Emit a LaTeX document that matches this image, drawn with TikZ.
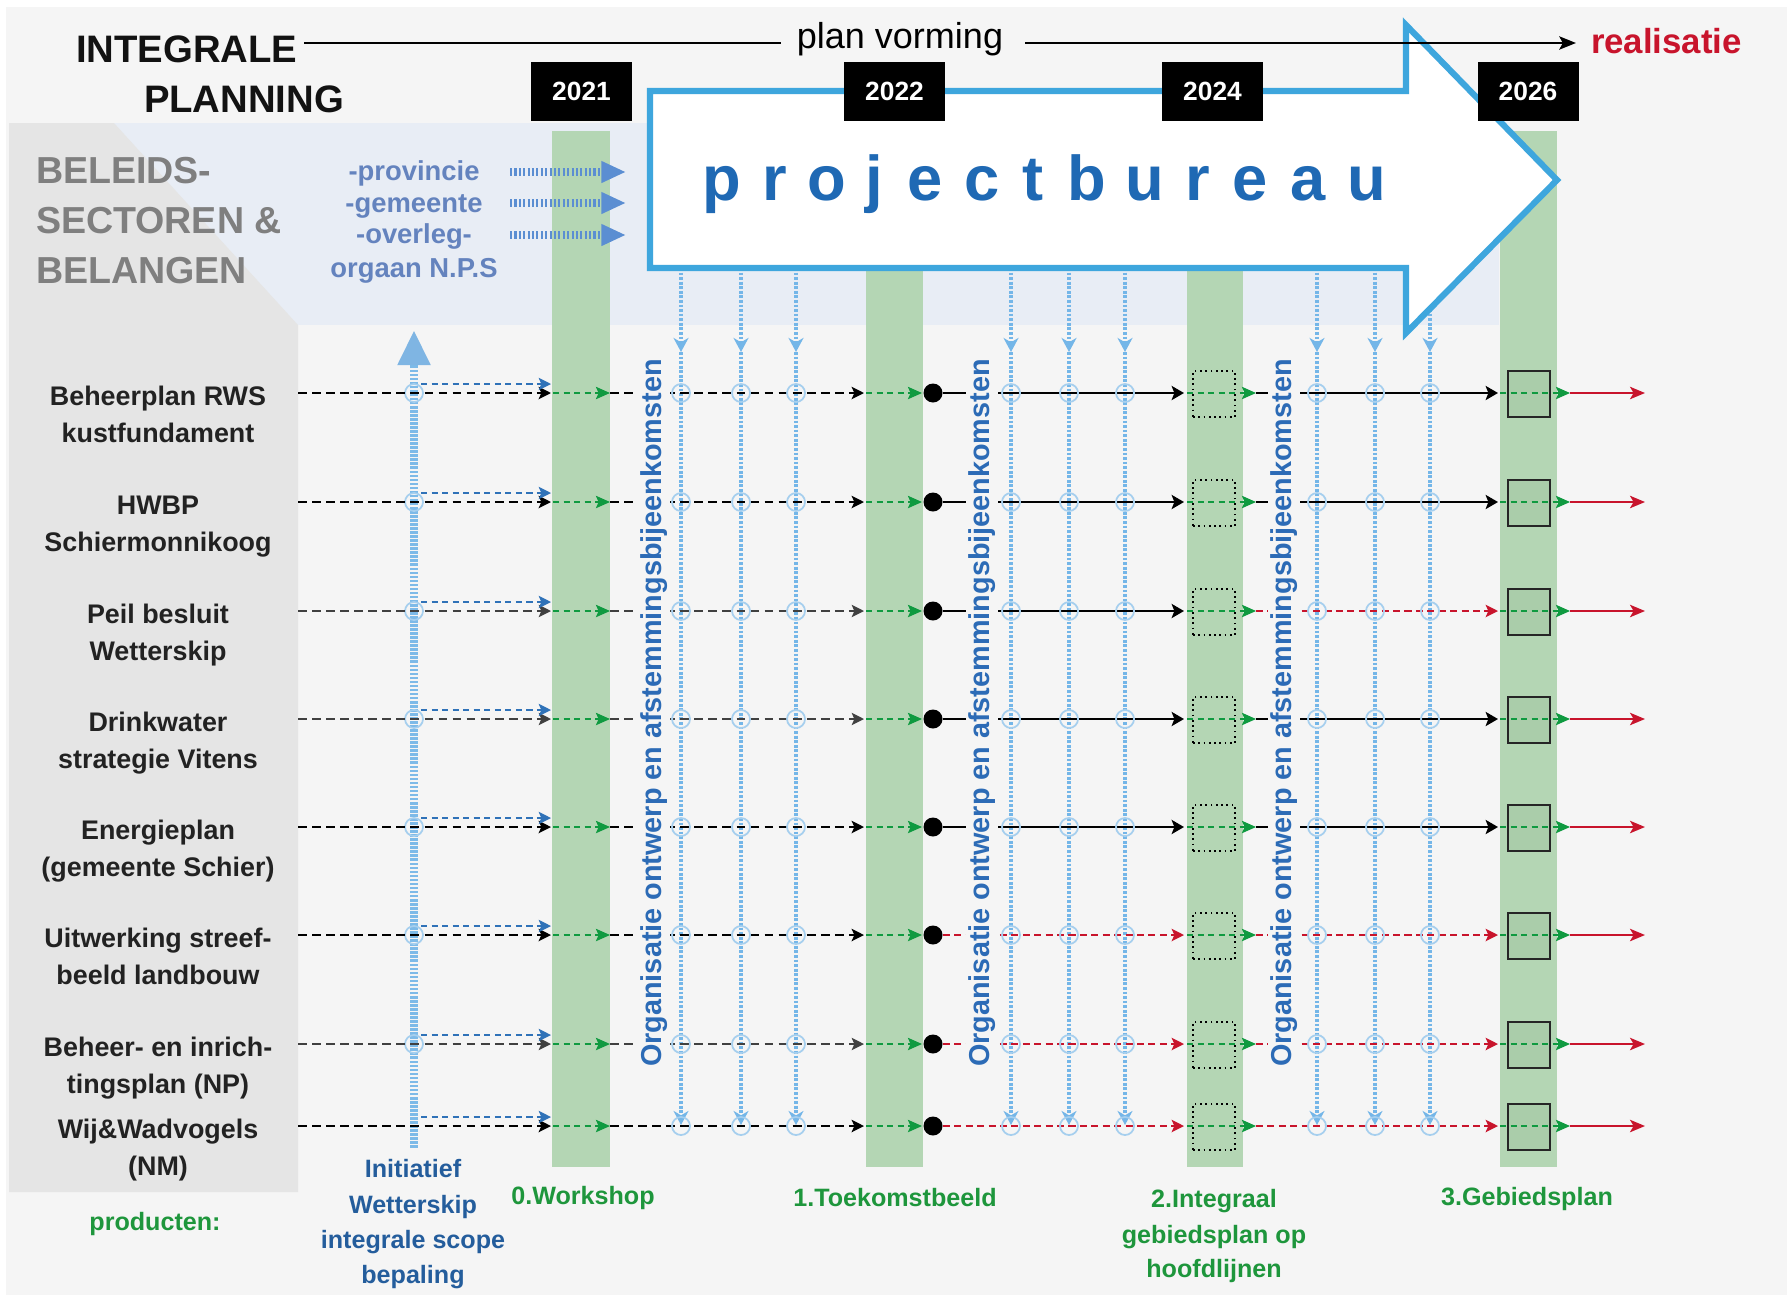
\documentclass[tikz,border=0pt]{standalone}
\usepackage{fontspec}
\setmainfont{Liberation Sans}
\usetikzlibrary{arrows.meta}
\definecolor{bggray}{HTML}{F5F5F5}
\definecolor{panelgray}{HTML}{E5E5E5}
\definecolor{bandblue}{HTML}{E8EDF5}
\definecolor{colgreen}{HTML}{B4D6B4}
\definecolor{boxgreen}{HTML}{AACDAA}
\definecolor{arrgreen}{HTML}{0F9A40}
\definecolor{arrred}{HTML}{C8142C}
\definecolor{dashblue}{HTML}{2F72B8}
\definecolor{vblue}{HTML}{74B6E8}
\definecolor{ringblue}{HTML}{A6CFEE}
\definecolor{initblue}{HTML}{7DBAE8}
\definecolor{inithead}{HTML}{7FB5E3}
\definecolor{listblue}{HTML}{5B8ED2}
\definecolor{listtext}{HTML}{6483BE}
\definecolor{bureaublue}{HTML}{3EA6DD}
\definecolor{pbtext}{HTML}{1F69B4}
\definecolor{orgblue}{HTML}{2C6BB6}
\definecolor{titlegray}{HTML}{7F7F7F}
\definecolor{prodgreen}{HTML}{1E963C}
\definecolor{initdark}{HTML}{245D9C}
\definecolor{labelblack}{HTML}{222222}
\newcommand\myfs[1]{\fontsize{#1pt}{#1pt}\selectfont}
\begin{document}
\begin{tikzpicture}[x=0.02cm,y=-0.02cm,
  txt/.style={inner sep=0pt,outer sep=0pt},
  rowlbl/.style={txt,anchor=base,font=\bfseries\myfs{15.3},text=labelblack},
  botlbl/.style={txt,anchor=base,font=\bfseries\myfs{14.3}},
  listlbl/.style={txt,anchor=base,font=\bfseries\myfs{15.6},text=listtext},
  bigtitle/.style={txt,anchor=base west,font=\bfseries\myfs{21.8},text=black!93},
  greytitle/.style={txt,anchor=base west,font=\bfseries\myfs{21.4},text=titlegray},
  yearbox/.style={fill=black,minimum width=2.02cm,minimum height=1.18cm,inner sep=0pt,text=white,font=\bfseries\myfs{15}},
  orgtext/.style={fill=bggray,inner sep=1.5pt,rotate=90,text=orgblue,font=\bfseries\myfs{16.4}},
  pbl/.style={txt,anchor=base,text=pbtext,font=\bfseries\myfs{36}},
  blkd/.style={draw=black,line width=1.5pt,dash pattern=on 5pt off 3pt,-{Stealth[length=7pt,width=7pt,inset=1.5pt]}},
  blkdl/.style={draw=black!75,line width=0.9pt,dash pattern=on 5pt off 3pt,-{Stealth[length=7pt,width=7pt,inset=1.5pt]}},
  blued/.style={draw=dashblue,line width=0.9pt,dash pattern=on 3.5pt off 2.5pt,-{Stealth[length=7pt,width=7pt,inset=1.5pt]}},
  grnd/.style={draw=arrgreen,line width=1.1pt,dash pattern=on 3.5pt off 2.5pt,-{Stealth[length=8pt,width=7pt,inset=1.5pt]}},
  segK/.style={draw=black,line width=1.5pt,-{Stealth[length=7pt,width=8pt,inset=1.5pt]}},
  segR/.style={draw=arrred,line width=1.3pt,dash pattern=on 4pt off 2.5pt,-{Stealth[length=7pt,width=7pt,inset=1.5pt]}},
  redend/.style={draw=arrred,line width=1.4pt,-{Stealth[length=8.5pt,width=7pt,inset=2pt]}},
  vdot/.style={draw=vblue,line width=2.3pt,dash pattern=on 1.6pt off 1pt,-{Stealth[length=8pt,width=8.5pt,inset=2.5pt]}},
  ringc/.style={circle,draw=ringblue,line width=1pt,minimum size=0.36cm,inner sep=0pt},
  dotn/.style={circle,fill=black,minimum size=0.38cm,inner sep=0pt},
  dbox/.style={draw=black,dotted,line width=1pt,minimum width=0.84cm,minimum height=0.92cm,inner sep=0pt},
  sbox/.style={draw=black!85,fill=boxgreen,line width=1.3pt,minimum width=0.84cm,minimum height=0.92cm,inner sep=0pt},
  listarr/.style={draw=listblue,line width=4pt,dash pattern=on 1.2pt off 1.3pt,-{Triangle[length=14pt,width=11.5pt]}},
  initarr/.style={draw=initblue,line width=5pt,dash pattern=on 1.5pt off 0.8pt,-{Triangle[length=20pt,width=17.5pt,color=inithead]}},
  bureau/.style={draw=bureaublue,line width=3.5pt,fill=white,line join=miter}
]
\useasboundingbox (0,0) rectangle (1787,1295);
% backgrounds
\fill[white] (0,0) rectangle (1787,1295);
\fill[bggray] (6,7) rectangle (1787,1295);
\fill[bandblue] (9,123) rectangle (1499,325);
\fill[panelgray] (9,123) -- (114,123) -- (298,325) -- (298,1192) -- (9,1192) -- cycle;
% green columns
\fill[colgreen] (552,131) rectangle (610,1167);
\fill[colgreen] (866,131) rectangle (923,1167);
\fill[colgreen] (1187,131) rectangle (1243,1167);
\fill[colgreen] (1500,131) rectangle (1557,1167);
% vertical dotted lines from projectbureau
\foreach \vx [count=\k] in {681,741,796,1011,1069,1125,1317,1375,1430}{
  \coordinate (vt\k) at (\vx,268);
  \coordinate (vm\k) at (\vx,352);
  \coordinate (vb\k) at (\vx,1125);
  \draw[vdot] (vt\k) -- (vm\k);
  \draw[vdot] (vm\k) -- (vb\k);
}
% projectbureau arrow
\draw[bureau] (650,91) -- (1406,91) -- (1406,25) -- (1557,180) -- (1406,333) -- (1406,268) -- (650,268) -- cycle;
\foreach \xx/\ch [count=\k] in {722/p,775/r,827/o,874/j,925/e,982/c,1033/t,1087/b,1145/u,1198/r,1250/e,1308/a,1367/u}
  \node[pbl] (pb\k) at (\xx,200) {\ch};
% timeline
\node[bigtitle] (intg) at (76,62) {INTEGRALE};
\node[bigtitle] (plann) at (144,112) {PLANNING};
\node[txt,anchor=base,font=\myfs{20.5}] (pv) at (900,48) {plan vorming};
\node[txt,anchor=base west,font=\bfseries\myfs{19.8},text=arrred] (real) at (1591,53) {realisatie};
\coordinate (tl0) at (304,43);
\coordinate (tl1) at (781,43);
\coordinate (tl2) at (1025,43);
\coordinate (tl3) at (1576,43);
\draw[line width=1.5pt] (tl0) -- (tl1);
\draw[line width=1.5pt,-{Stealth[length=9.5pt,width=7.5pt,inset=2pt]}] (tl2) -- (tl3);
% year boxes
\node[yearbox] (y2021) at (581.5,91.5) {2021};
\node[yearbox] (y2022) at (894.5,91.5) {2022};
\node[yearbox] (y2024) at (1212.5,91.5) {2024};
\node[yearbox] (y2026) at (1528,91.5) {2026};
% left titles
\node[greytitle] (bel1) at (36,183) {BELEIDS-};
\node[greytitle] (bel2) at (36,233) {SECTOREN \&};
\node[greytitle] (bel3) at (36,283) {BELANGEN};
% list
\node[listlbl] (ls1) at (414,180) {-provincie};
\node[listlbl] (ls2) at (414,212) {-gemeente};
\node[listlbl] (ls3) at (414,243) {-overleg-};
\node[listlbl] (ls4) at (414,277) {orgaan N.P.S};
\foreach \yy [count=\k] in {172,203,235}{
  \coordinate (la\k) at (510,\yy);
  \coordinate (lz\k) at (626,\yy);
  \draw[listarr] (la\k) -- (lz\k);
}
% initiatief arrow
\coordinate (ib) at (414,1148);
\coordinate (it) at (414,330);
\draw[initarr] (ib) -- (it);
\foreach \yy [count=\k] in {393,502,611,719,827,935,1044}
  \node[ringc] (ri\k) at (414,\yy) {};
% rows
\foreach \i/\y/\la/\lb/\fa/\sb/\sc in {
 1/393/Beheerplan RWS/kustfundament/blkd/segK/segK,
 2/502/HWBP/Schiermonnikoog/blkd/segK/segK,
 3/611/Peil besluit/Wetterskip/blkdl/segK/segR,
 4/719/Drinkwater/strategie Vitens/blkdl/segK/segK,
 5/827/Energieplan/(gemeente Schier)/blkd/segK/segK,
 6/935/Uitwerking streef-/beeld landbouw/blkd/segR/segR,
 7/1044/Beheer- en inrich-/tingsplan (NP)/blkdl/segR/segR,
 8/1126/Wij\&Wadvogels/(NM)/blkd/segR/segR}{
  \node[rowlbl] (lbA\i) at (158,\y+12) {\la};
  \node[rowlbl] (lbB\i) at (158,\y+49) {\lb};
  \coordinate (p\i) at (298,\y);
  \coordinate (c1l\i) at (551,\y);
  \coordinate (c1s\i) at (553,\y);
  \coordinate (c1r\i) at (610,\y);
  \coordinate (c2l\i) at (864,\y);
  \coordinate (c2s\i) at (866,\y);
  \coordinate (c2r\i) at (922,\y);
  \coordinate (c3l\i) at (1184,\y);
  \coordinate (c3s\i) at (1187,\y);
  \coordinate (c3r\i) at (1256,\y);
  \coordinate (c4l\i) at (1498,\y);
  \coordinate (c4s\i) at (1500,\y);
  \coordinate (c4r\i) at (1570,\y);
  \coordinate (e\i) at (1645,\y);
  \coordinate (bs\i) at (421,\y-9);
  \coordinate (be\i) at (551,\y-9);
  \node[dbox] (bx3\i) at (1214,\y+1) {};
  \node[sbox] (bx4\i) at (1529,\y+1) {};
  \draw[\fa] (p\i) -- (c1l\i);
  \draw[blued] (bs\i) -- (be\i);
  \draw[grnd] (c1s\i) -- (c1r\i);
  \draw[\fa] (c1r\i) -- (c2l\i);
  \draw[grnd] (c2s\i) -- (c2r\i);
  \node[dotn] (d\i) at (933,\y) {};
  \draw[\sb] (d\i) -- (c3l\i);
  \draw[grnd] (c3s\i) -- (c3r\i);
  \draw[\sc] (c3r\i) -- (c4l\i);
  \draw[grnd] (c4s\i) -- (c4r\i);
  \draw[redend] (c4r\i) -- (e\i);
  \foreach \vx in {681,741,796,1011,1069,1125,1317,1375,1430}
    \node[ringc] (rg\i-\vx) at (\vx,\y) {};
}
% rotated texts
\node[orgtext] (org1) at (654,713) {Organisatie ontwerp en afstemmingsbijeenkomsten};
\node[orgtext] (org2) at (982,713) {Organisatie ontwerp en afstemmingsbijeenkomsten};
\node[orgtext] (org3) at (1284,713) {Organisatie ontwerp en afstemmingsbijeenkomsten};
% bottom labels
\node[botlbl,text=initdark] (ini1) at (413,1177) {Initiatief};
\node[botlbl,text=initdark] (ini2) at (413,1213) {Wetterskip};
\node[botlbl,text=initdark] (ini3) at (413,1248) {integrale scope};
\node[botlbl,text=initdark] (ini4) at (413,1283) {bepaling};
\node[botlbl,text=prodgreen] (prod) at (155,1230) {producten:};
\node[botlbl,text=prodgreen] (pr0) at (583,1204) {0.Workshop};
\node[botlbl,text=prodgreen] (pr1) at (895,1206) {1.Toekomstbeeld};
\node[botlbl,text=prodgreen] (pr2a) at (1214,1207) {2.Integraal};
\node[botlbl,text=prodgreen] (pr2b) at (1214,1243) {gebiedsplan op};
\node[botlbl,text=prodgreen] (pr2c) at (1214,1277) {hoofdlijnen};
\node[botlbl,text=prodgreen] (pr3) at (1527,1205) {3.Gebiedsplan};
\end{tikzpicture}
\end{document}
